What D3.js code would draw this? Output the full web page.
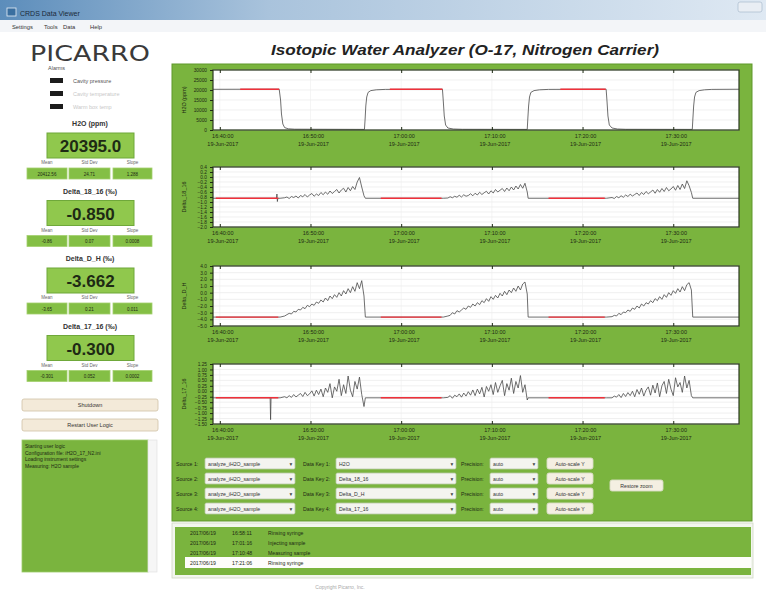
<!DOCTYPE html>
<html>
<head>
<meta charset="utf-8">
<script src="https://cdn.jsdelivr.net/npm/d3@7"></script>
<style>
  body { margin: 0; background: #fff; }
  svg { display: block; font-family: "Liberation Sans", "DejaVu Sans", sans-serif; }
</style>
</head>
<body>
<svg id="app" width="766" height="591"></svg>
<script>
// ---- data ----
const startTime = new Date(2017, 5, 19, 16, 39, 15);
const spanMinutes = 58;

// H2O (ppm), [minute, value]
const h2oSeries = [
  [0, 20350], [7.3, 20400], [7.45, 15000], [7.55, 8000], [7.7, 3000], [7.9, 1200], [8.3, 600], [9, 400],
  [16.7, 300], [16.78, 6000], [16.85, 12000], [16.95, 16500], [17.1, 18800], [17.4, 19700], [18, 20100], [19, 20300],
  [25.3, 20400], [25.4, 14000], [25.5, 7000], [25.65, 2500], [25.9, 1000], [26.5, 500], [27.5, 350],
  [34.65, 300], [34.72, 6000], [34.8, 12000], [34.9, 16500], [35.05, 18800], [35.4, 19700], [36, 20100], [37, 20300],
  [43.35, 20400], [43.45, 14000], [43.55, 7000], [43.7, 2500], [44, 1000], [44.6, 500], [45.5, 350],
  [52.85, 300], [52.92, 6000], [53, 12000], [53.1, 16500], [53.25, 18800], [53.6, 19700], [54.2, 20100], [55, 20300], [58, 20380]
];

// low-humidity stretches, sampled every 0.25 min from each start
const lowStarts = [7.9, 25.9, 44.0];
const levelEdges = [7.4, 16.8, 25.4, 34.75, 43.4, 52.9];
const sampleStep = 0.25;

const d18Low1 = [-0.83,-0.80,-0.86,-0.78,-0.82,-0.76,-0.84,-0.74,-0.79,-0.70,-0.80,-0.72,-0.66,-0.77,-0.68,-0.74,-0.62,-0.71,-0.60,-0.69,-0.56,-0.66,-0.58,-0.50,-0.64,-0.52,-0.45,-0.60,-0.42,-0.55,-0.38,-0.50,-0.20,-0.02,-0.40,-0.75];
const d18Low2 = [-0.84,-0.79,-0.83,-0.77,-0.81,-0.73,-0.80,-0.71,-0.77,-0.74,-0.67,-0.75,-0.65,-0.72,-0.61,-0.70,-0.63,-0.57,-0.68,-0.55,-0.64,-0.50,-0.60,-0.53,-0.46,-0.58,-0.44,-0.55,-0.40,-0.52,-0.36,-0.48,-0.30,-0.45,-0.25,-0.60];
const d18Low3 = [-0.82,-0.86,-0.78,-0.83,-0.75,-0.81,-0.72,-0.78,-0.69,-0.76,-0.70,-0.64,-0.74,-0.62,-0.70,-0.58,-0.67,-0.60,-0.52,-0.65,-0.50,-0.61,-0.46,-0.58,-0.42,-0.55,-0.48,-0.38,-0.53,-0.34,-0.50,-0.28,-0.46,-0.15,-0.35,-0.62];
const d18Spikes = [[7.0, -0.85], [7.05, -0.68], [7.1, -0.98], [7.15, -0.85]];

const dDLow1 = [-3.5,-3.3,-3.1,-3.2,-2.8,-2.9,-2.5,-2.6,-2.2,-2.4,-1.9,-2.1,-1.7,-1.9,-1.4,-1.6,-1.1,-1.4,-0.8,-1.2,-0.5,-0.9,-0.3,-0.7,0.0,-0.5,0.3,-0.2,0.6,0.0,0.9,0.2,1.5,0.6,1.8,-0.5];
const dDLow2 = [-3.5,-3.4,-3.0,-3.2,-2.7,-2.9,-2.6,-2.3,-2.5,-2.0,-2.2,-1.7,-2.0,-1.5,-1.8,-1.2,-1.5,-0.9,-1.3,-0.6,-1.0,-0.4,-0.8,-0.1,-0.5,0.2,-0.3,0.4,0.0,0.7,0.2,1.0,0.4,1.3,1.6,-0.2];
const dDLow3 = [-3.6,-3.4,-3.5,-3.1,-3.3,-2.9,-3.0,-2.6,-2.8,-2.3,-2.5,-2.0,-2.3,-1.7,-2.0,-1.5,-1.7,-1.2,-1.5,-0.9,-1.2,-0.6,-1.0,-0.3,-0.7,0.0,-0.4,0.3,-0.1,0.6,0.1,0.9,0.3,1.2,1.5,0.4];

const d17Low1 = [-0.25,-0.30,-0.20,-0.28,-0.15,-0.26,-0.18,-0.10,-0.24,-0.05,-0.20,-0.12,0.02,-0.22,0.05,-0.15,0.10,-0.25,0.15,-0.05,0.35,-0.30,0.20,0.00,0.55,-0.20,0.30,-0.10,0.70,0.05,-0.25,0.45,0.10,0.65,-0.15,-0.70];
const d17Low2 = [-0.28,-0.20,-0.32,-0.18,-0.25,-0.12,-0.27,-0.08,-0.22,-0.02,-0.18,0.06,-0.20,0.10,-0.12,0.18,-0.26,0.22,0.00,0.30,-0.15,0.40,-0.05,0.25,0.50,-0.20,0.35,0.05,0.60,-0.10,0.45,0.15,0.72,-0.05,0.30,-0.40];
const d17Low3 = [-0.30,-0.22,-0.27,-0.15,-0.29,-0.10,-0.24,-0.06,-0.20,0.00,-0.25,0.08,-0.14,0.15,-0.22,0.05,0.20,-0.18,0.28,-0.08,0.38,-0.25,0.25,0.45,-0.10,0.55,0.10,-0.20,0.62,0.20,0.40,-0.05,0.70,0.15,0.50,-0.20];
const d17Spikes = [[6.3, -0.3], [6.35, -1.3], [6.4, -0.3]];

const h2oWindows = [[3.0, 7.3], [19.5, 25.3], [38.3, 43.3]];
const deltaWindows = [[0.3, 7.2], [18.5, 25.2], [37.0, 43.2]];

const yLabels = ["H2O (ppm)", "Delta_18_16", "Delta_D_H", "Delta_17_16"];
const baseValues = [20395, -0.85, -3.662, -0.30];
const yDomains = [[0, 30000], [-2.0, 0.4], [-5, 4], [-1.5, 1.25]];
const yTickSteps = [5000, 0.2, 1, 0.25];
const yTickFormats = ["d", ".1f", ".1f", ".2f"];

// left side readouts
const readoutNames = ["H2O (ppm)", "Delta_18_16 (\u2030)", "Delta_D_H (\u2030)", "Delta_17_16 (\u2030)"];
const readoutValues = ["20395.0", "-0.850", "-3.662", "-0.300"];
const statNames = ["Mean", "Std Dev", "Slope"];
const statValues = [
  ["20412.56", "24.71", "1.288"],
  ["-0.86", "0.07", "0.0008"],
  ["-3.65", "0.21", "0.011"],
  ["-0.301", "0.052", "0.0002"]
];
const alarmNames = ["Cavity pressure", "Cavity temperature", "Warm box temp"];

// controls
const sourceNames = ["analyze_iH2O_sample", "analyze_iH2O_sample", "analyze_iH2O_sample", "analyze_iH2O_sample"];
const dataKeys = ["H2O", "Delta_18_16", "Delta_D_H", "Delta_17_16"];
const precisions = ["auto", "auto", "auto", "auto"];

// event log
const logDates = ["2017/06/19", "2017/06/19", "2017/06/19", "2017/06/19"];
const logTimes = ["16:58:11", "17:01:16", "17:10:48", "17:21:06"];
const logMessages = ["Rinsing syringe", "Injecting sample", "Measuring sample", "Rinsing syringe"];

const leftLog = ["Starting user logic", "Configuration file: iH2O_17_N2.ini", "Loading instrument settings", "Measuring: H2O sample"];

// ---- drawing ----
const svg = d3.select("#app");
const green = "#7ab43e", greenDark = "#5f972b", boxGreen = "#90c84d", ink = "#1e2a14";

function buildSeries(base, lows, extra) {
  const pts = [[0, base]];
  lows.forEach((vals, k) => {
    pts.push([levelEdges[2 * k], base]);
    vals.forEach((v, i) => pts.push([lowStarts[k] + i * sampleStep, v]));
    pts.push([levelEdges[2 * k + 1], base]);
  });
  pts.push([spanMinutes, base]);
  extra.forEach(p => pts.push(p));
  return pts.sort((a, b) => a[0] - b[0]);
}

const seriesList = [
  h2oSeries,
  buildSeries(baseValues[1], [d18Low1, d18Low2, d18Low3], d18Spikes),
  buildSeries(baseValues[2], [dDLow1, dDLow2, dDLow3], []),
  buildSeries(baseValues[3], [d17Low1, d17Low2, d17Low3], d17Spikes)
];

const toDate = m => new Date(startTime.getTime() + m * 60000);

// window title bar + menu
const tg = svg.append("defs").append("linearGradient").attr("id", "tbar");
tg.append("stop").attr("offset", "0%").attr("stop-color", "#5c8dbb");
tg.append("stop").attr("offset", "35%").attr("stop-color", "#a9c3dc");
tg.append("stop").attr("offset", "100%").attr("stop-color", "#dfe9f3");
svg.append("rect").attr("x", 0).attr("y", 0).attr("width", 766).attr("height", 20).attr("fill", "url(#tbar)");
svg.append("rect").attr("x", 7).attr("y", 8).attr("width", 9).attr("height", 8).attr("fill", "#3a6fa0").attr("stroke", "#e8f0f8").attr("stroke-width", 0.8);
svg.append("text").attr("x", 20).attr("y", 15.5).attr("font-size", 7).attr("fill", "#1b2a3a").text("CRDS Data Viewer");
svg.append("rect").attr("x", 738).attr("y", 2).attr("width", 24).attr("height", 10).attr("rx", 2).attr("fill", "#e9eef4").attr("stroke", "#9fb3c8").attr("stroke-width", 0.6);
svg.append("rect").attr("x", 0).attr("y", 20).attr("width", 766).attr("height", 12).attr("fill", "#f3f5f8");
[["Settings", 12], ["Tools", 44], ["Data", 63], ["Help", 90]].forEach(([t, x]) => {
  svg.append("text").attr("x", x).attr("y", 29).attr("font-size", 5.8).attr("fill", "#333").text(t);
});

// logo + alarms
svg.append("text").attr("x", 30).attr("y", 61).attr("font-size", 22).attr("fill", "#3a3a3a")
  .attr("font-family", "'DejaVu Sans', sans-serif").attr("textLength", 120).attr("lengthAdjust", "spacingAndGlyphs").text("PICARRO");
svg.append("text").attr("x", 48).attr("y", 70).attr("font-size", 5.5).attr("fill", "#555").text("Alarms");
alarmNames.forEach((name, i) => {
  svg.append("rect").attr("x", 50).attr("y", 78 + i * 13).attr("width", 13).attr("height", 5).attr("fill", "#1c1c1c");
  svg.append("text").attr("x", 73).attr("y", 83 + i * 13).attr("font-size", 5.5)
    .attr("fill", i === 0 ? "#555" : "#c8c8c8").text(name);
});

// readouts
readoutNames.forEach((name, i) => {
  const y0 = 126 + i * 67.5;
  svg.append("text").attr("x", 90).attr("y", y0).attr("text-anchor", "middle").attr("font-size", 7).attr("font-weight", "bold").attr("fill", "#333").text(name);
  svg.append("rect").attr("x", 47).attr("y", y0 + 7).attr("width", 87).attr("height", 25).attr("fill", boxGreen).attr("stroke", "#6fa83a").attr("stroke-width", 1);
  svg.append("text").attr("x", 90.5).attr("y", y0 + 26).attr("text-anchor", "middle").attr("font-size", 17).attr("font-weight", "bold").attr("fill", ink).text(readoutValues[i]);
  const statX = [[27, 67], [69, 110], [113, 152]];
  statNames.forEach((s, j) => {
    const [a, b] = statX[j];
    svg.append("text").attr("x", (a + b) / 2).attr("y", y0 + 38).attr("text-anchor", "middle").attr("font-size", 4.5).attr("fill", "#666").text(s);
    svg.append("rect").attr("x", a).attr("y", y0 + 42).attr("width", b - a).attr("height", 11).attr("fill", "#84bf45").attr("stroke", "#a4d06e").attr("stroke-width", 0.8);
    svg.append("text").attr("x", (a + b) / 2).attr("y", y0 + 49.5).attr("text-anchor", "middle").attr("font-size", 4.5).attr("fill", ink).text(statValues[i][j]);
  });
});

// left buttons
function button(x, y, w, h, label) {
  svg.append("rect").attr("x", x).attr("y", y).attr("width", w).attr("height", h).attr("rx", 2)
    .attr("fill", "#f3ead9").attr("stroke", "#cfc2a6").attr("stroke-width", 0.8);
  svg.append("text").attr("x", x + w / 2).attr("y", y + h / 2 + 2).attr("text-anchor", "middle").attr("font-size", 5.5).attr("fill", "#333").text(label);
}
button(22, 399, 136, 12, "Shutdown");
button(22, 419, 136, 12, "Restart User Logic");

svg.append("rect").attr("x", 22).attr("y", 440).attr("width", 126).attr("height", 132).attr("fill", green).attr("stroke", "#9ccb6a").attr("stroke-width", 0.8);
svg.append("rect").attr("x", 148).attr("y", 440).attr("width", 9).attr("height", 132).attr("fill", "#f6f6f6").attr("stroke", "#ddd").attr("stroke-width", 0.6);
leftLog.forEach((t, i) => {
  svg.append("text").attr("x", 25).attr("y", 448 + i * 6.5).attr("font-size", 5).attr("fill", ink).text(t);
});

// main green panel
svg.append("rect").attr("x", 172).attr("y", 64).attr("width", 580).attr("height", 457).attr("fill", green).attr("stroke", greenDark).attr("stroke-width", 1);
svg.append("text").attr("x", 465).attr("y", 55).attr("text-anchor", "middle").attr("font-size", 15).attr("font-weight", "bold").attr("font-style", "italic")
  .attr("fill", "#222").attr("textLength", 388).attr("lengthAdjust", "spacingAndGlyphs").text("Isotopic Water Analyzer (O-17, Nitrogen Carrier)");

const plotX0 = 213, plotX1 = 739, plotH = 60;
const plotTops = [70, 167, 266, 364];
const x = d3.scaleTime().domain([toDate(0), toDate(spanMinutes)]).range([plotX0, plotX1]);
const xTicks = x.ticks(d3.timeMinute.every(10));
const fmtTime = d3.timeFormat("%H:%M:%S"), fmtDate = d3.timeFormat("%d-%b-%Y");

seriesList.forEach((series, i) => {
  const top = plotTops[i], bottom = top + plotH;
  const y = d3.scaleLinear().domain(yDomains[i]).range([bottom, top]);
  const yTicks = d3.range(yDomains[i][0], yDomains[i][1] + yTickSteps[i] / 2, yTickSteps[i]);
  const g = svg.append("g");

  g.append("rect").attr("x", plotX0).attr("y", top).attr("width", plotX1 - plotX0).attr("height", plotH).attr("fill", "#fff");

  // grid
  g.selectAll(".hg").data(yTicks).enter().append("line")
    .attr("x1", plotX0).attr("x2", plotX1).attr("y1", d => y(d)).attr("y2", d => y(d))
    .attr("stroke", "#e6e6e6").attr("stroke-width", 0.6);
  g.selectAll(".vg").data(xTicks).enter().append("line")
    .attr("x1", d => x(d)).attr("x2", d => x(d)).attr("y1", top).attr("y2", bottom)
    .attr("stroke", "#efefef").attr("stroke-width", 0.6);

  // series
  const line = d3.line().x(d => x(toDate(d[0]))).y(d => y(d[1]));
  g.append("path").datum(series).attr("fill", "none").attr("stroke", "#4a4a4a").attr("stroke-width", 0.8).attr("d", line);
  const windows = i === 0 ? h2oWindows : deltaWindows;
  windows.forEach(w => {
    g.append("path").datum([[w[0], baseValues[i]], [w[1], baseValues[i]]])
      .attr("fill", "none").attr("stroke", "#f0303a").attr("stroke-width", 1.4).attr("d", line);
  });

  // frame
  g.append("rect").attr("x", plotX0).attr("y", top).attr("width", plotX1 - plotX0).attr("height", plotH)
    .attr("fill", "none").attr("stroke", "#2b3820").attr("stroke-width", 1.2);

  // axes
  const ya = g.append("g").attr("transform", `translate(${plotX0},0)`)
    .call(d3.axisLeft(y).tickValues(yTicks).tickSize(3).tickFormat(d3.format(yTickFormats[i])));
  ya.select(".domain").remove();
  ya.selectAll("text").attr("font-size", 4.8).attr("fill", ink).attr("font-family", "'Liberation Sans', sans-serif");
  ya.selectAll("line").attr("stroke", ink);

  const xaTop = g.append("g").attr("transform", `translate(0,${top})`).call(d3.axisBottom(x).tickValues(xTicks).tickSize(3).tickFormat(""));
  xaTop.select(".domain").remove();
  xaTop.selectAll("line").attr("stroke", ink);
  const xaBot = g.append("g").attr("transform", `translate(0,${bottom})`).call(d3.axisTop(x).tickValues(xTicks).tickSize(3).tickFormat(""));
  xaBot.select(".domain").remove();
  xaBot.selectAll("line").attr("stroke", ink);

  g.selectAll(".xl1").data(xTicks).enter().append("text")
    .attr("x", d => x(d) + 3).attr("y", bottom + 8).attr("text-anchor", "middle").attr("font-size", 5.5).attr("fill", ink).text(fmtTime);
  g.selectAll(".xl2").data(xTicks).enter().append("text")
    .attr("x", d => x(d) + 3).attr("y", bottom + 16).attr("text-anchor", "middle").attr("font-size", 5.5).attr("fill", ink).text(fmtDate);

  g.append("text").attr("transform", `translate(186,${top + plotH / 2}) rotate(-90)`).attr("text-anchor", "middle")
    .attr("font-size", 5.5).attr("fill", ink).text(yLabels[i]);
});

// controls under the plots
function dropdown(x0, y0, w, label) {
  svg.append("rect").attr("x", x0).attr("y", y0).attr("width", w).attr("height", 11).attr("rx", 1.5)
    .attr("fill", "#f4f4f0").attr("stroke", "#b9c9a6").attr("stroke-width", 0.8);
  svg.append("text").attr("x", x0 + 3).attr("y", y0 + 7.5).attr("font-size", 5.2).attr("fill", "#333").text(label);
  svg.append("text").attr("x", x0 + w - 4).attr("y", y0 + 8).attr("text-anchor", "middle").attr("font-size", 5.5).attr("fill", "#444").text("\u25BE");
}
function smallButton(x0, y0, w, label) {
  svg.append("rect").attr("x", x0).attr("y", y0).attr("width", w).attr("height", 11).attr("rx", 2)
    .attr("fill", "#f4efe2").attr("stroke", "#d8dcc4").attr("stroke-width", 0.9);
  svg.append("text").attr("x", x0 + w / 2).attr("y", y0 + 7.5).attr("text-anchor", "middle").attr("font-size", 5.2).attr("fill", "#333").text(label);
}
sourceNames.forEach((s, r) => {
  const y0 = 458 + r * 15;
  svg.append("text").attr("x", 176).attr("y", y0 + 7.5).attr("font-size", 5.2).attr("fill", ink).text(`Source ${r + 1}:`);
  dropdown(205, y0, 90, s);
  svg.append("text").attr("x", 303).attr("y", y0 + 7.5).attr("font-size", 5.2).attr("fill", ink).text(`Data Key ${r + 1}:`);
  dropdown(336, y0, 120, dataKeys[r]);
  svg.append("text").attr("x", 461).attr("y", y0 + 7.5).attr("font-size", 5.2).attr("fill", ink).text("Precision:");
  dropdown(490, y0, 48, precisions[r]);
  smallButton(547, y0, 46, "Auto-scale Y");
});
smallButton(610, 480, 53, "Restore zoom");

// event log at the bottom
svg.append("rect").attr("x", 172).attr("y", 523).attr("width", 581).attr("height", 55).attr("fill", "#f2f6ee").attr("stroke", "#cfd8c4").attr("stroke-width", 0.8);
svg.append("rect").attr("x", 175).attr("y", 527).attr("width", 576).attr("height", 48).attr("fill", green);
logMessages.forEach((m, i) => {
  const y0 = 528 + i * 10;
  if (i === logMessages.length - 1) {
    svg.append("rect").attr("x", 185).attr("y", y0 - 1).attr("width", 566).attr("height", 11).attr("fill", "#fdfdfb");
  }
  svg.append("text").attr("x", 190).attr("y", y0 + 6.5).attr("font-size", 5.2).attr("fill", ink).text(logDates[i]);
  svg.append("text").attr("x", 232).attr("y", y0 + 6.5).attr("font-size", 5.2).attr("fill", ink).text(logTimes[i]);
  svg.append("text").attr("x", 268).attr("y", y0 + 6.5).attr("font-size", 5.2).attr("fill", ink).text(m);
});
svg.append("text").attr("x", 340).attr("y", 589).attr("text-anchor", "middle").attr("font-size", 5).attr("fill", "#aaa").text("Copyright Picarro, Inc.");
</script>
</body>
</html>
